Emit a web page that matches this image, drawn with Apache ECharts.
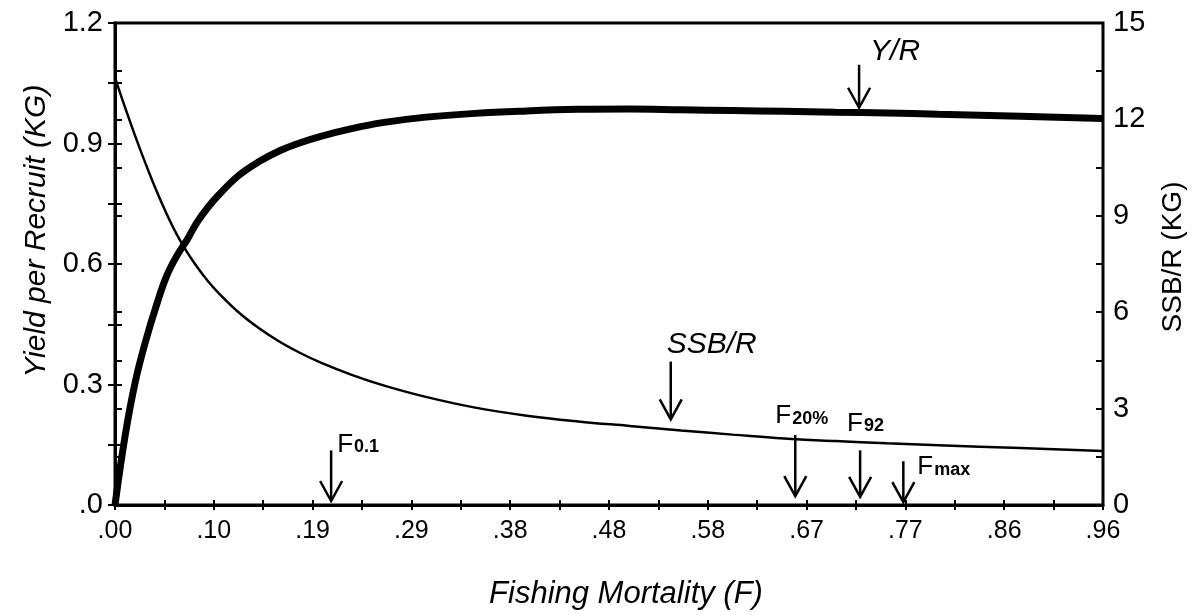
<!DOCTYPE html>
<html>
<head>
<meta charset="utf-8">
<title>Yield and SSB per Recruit</title>
<script src="https://cdn.jsdelivr.net/npm/echarts@6/dist/echarts.min.js"></script>
<style>
  html, body { margin: 0; padding: 0; background: #fff; }
  #chart { width: 1195px; height: 615px; }
</style>
</head>
<body>
<div id="chart"></div>
<script>
// fishing mortality samples for each curve
const yrF = [0, 0.01, 0.02, 0.03, 0.04, 0.05, 0.06, 0.07, 0.08, 0.09, 0.10, 0.12, 0.14, 0.16, 0.18, 0.20, 0.23, 0.26, 0.30, 0.35, 0.40, 0.45, 0.50, 0.55, 0.60, 0.65, 0.70, 0.75, 0.80, 0.88, 0.96];
const yrValues = [0, 0.175, 0.31, 0.41, 0.495, 0.569, 0.62, 0.66, 0.705, 0.74, 0.77, 0.82, 0.855, 0.882, 0.902, 0.918, 0.937, 0.952, 0.965, 0.975, 0.981, 0.985, 0.986, 0.984, 0.982, 0.98, 0.978, 0.976, 0.973, 0.968, 0.962];

const ssbF = [0, 0.01, 0.02, 0.03, 0.04, 0.05, 0.06, 0.07, 0.08, 0.09, 0.10, 0.12, 0.14, 0.16, 0.18, 0.20, 0.23, 0.26, 0.30, 0.35, 0.40, 0.45, 0.50, 0.55, 0.60, 0.65, 0.70, 0.75, 0.80, 0.88, 0.96];
const ssbValues = [13.3, 12.35, 11.45, 10.6, 9.8, 9.07, 8.42, 7.87, 7.4, 6.98, 6.62, 6.0, 5.5, 5.08, 4.73, 4.43, 4.05, 3.73, 3.38, 3.03, 2.78, 2.6, 2.46, 2.32, 2.19, 2.07, 1.99, 1.92, 1.86, 1.77, 1.68];

// tick labels
const xLabels = ['.00', '.10', '.19', '.29', '.38', '.48', '.58', '.67', '.77', '.86', '.96'];
const yLeftLabels = ['.0', '0.3', '0.6', '0.9', '1.2'];
const yRightLabels = ['0', '3', '6', '9', '12', '15'];

// arrow annotations (F, arrow top, arrow tip in yield units)
const annNames = ['Y/R', 'SSB/R', 'F0.1', 'F20%', 'F92', 'Fmax'];
const annF = [0.723, 0.54, 0.21, 0.661, 0.724, 0.766];
const annTop = [1.096, 0.357, 0.136, 0.174, 0.136, 0.109];
const annTip = [0.989, 0.213, 0.01, 0.022, 0.02, 0.007];

const FONT = '"Liberation Sans", Arial, sans-serif';

// label placement relative to the arrow top
const annLabel = {
  'Y/R':   { text: 'Y/R', dx: 11, dy: -13, italic: true },
  'SSB/R': { text: 'SSB/R', dx: -4, dy: -17, italic: true },
  'F0.1':  { text: '{f|F}{s|0.1}', dx: 6, dy: -6 },
  'F20%':  { text: '{f|F}{s|20%}', dx: -20, dy: -19 },
  'F92':   { text: '{f|F}{s|92}', dx: -13, dy: -27 },
  'Fmax':  { text: '{f|F}{s|max}', dx: 14, dy: 6 }
};

const pairs = (xs, ys) => xs.map((x, i) => [x, ys[i]]);

function renderArrow(params, api) {
  const name = annNames[params.dataIndex];
  const top = api.coord([api.value(0), api.value(1)]);
  const tip = api.coord([api.value(0), api.value(2)]);
  const lab = annLabel[name];
  const stroke = { stroke: '#000', lineWidth: 2.5, fill: null };
  return {
    type: 'group',
    children: [
      { type: 'line', shape: { x1: top[0], y1: top[1], x2: tip[0], y2: tip[1] - 2 }, style: stroke },
      { type: 'polyline', shape: { points: [[tip[0] - 11, tip[1] - 20], [tip[0], tip[1]], [tip[0] + 11, tip[1] - 20]] }, style: stroke },
      {
        type: 'text',
        x: top[0] + lab.dx,
        y: top[1] + lab.dy,
        style: {
          text: lab.text,
          fill: '#000',
          fontFamily: FONT,
          fontSize: 30,
          fontStyle: lab.italic ? 'italic' : 'normal',
          align: 'left',
          verticalAlign: 'middle',
          rich: {
            f: { fontSize: 26, fontFamily: FONT, fill: '#000', verticalAlign: 'bottom' },
            s: { fontSize: 18, fontFamily: FONT, fontWeight: 'bold', fill: '#000', verticalAlign: 'bottom', padding: [0, 0, 1, 1] }
          }
        }
      }
    ]
  };
}

const tickStyle = { lineStyle: { color: '#000', width: 2 } };

function xAxisDef(main) {
  return {
    type: 'value', position: 'bottom', min: 0, max: 0.96, interval: 0.096,
    axisLine: { show: main, lineStyle: { color: '#000', width: 3 } },
    axisTick: { show: true, inside: !main, length: 5, ...tickStyle },
    minorTick: { show: true, splitNumber: 2, length: 5, ...tickStyle },
    splitLine: { show: false },
    axisLabel: {
      show: main, color: '#000', fontFamily: FONT, fontSize: 25, margin: 14,
      formatter: v => xLabels[Math.round(v / 0.096)]
    },
    name: main ? 'Fishing Mortality (F)' : '',
    nameLocation: 'middle', nameGap: 74,
    nameTextStyle: { color: '#000', fontFamily: FONT, fontSize: 31, fontStyle: 'italic', padding: [0, 0, 0, 34] }
  };
}

function yLeftDef(main) {
  return {
    type: 'value', position: 'left', min: 0, max: 1.2, interval: 0.3,
    axisLine: { show: main, lineStyle: { color: '#000', width: 3 } },
    axisTick: { show: true, inside: !main, length: 7, ...tickStyle },
    minorTick: { show: true, splitNumber: 2, length: 7, ...tickStyle },
    splitLine: { show: false },
    axisLabel: {
      show: main, color: '#000', fontFamily: FONT, fontSize: 29, margin: 12,
      formatter: v => yLeftLabels[Math.round(v / 0.3)]
    },
    name: main ? 'Yield per Recruit (KG)' : '',
    nameLocation: 'middle', nameGap: 62,
    nameTextStyle: { color: '#000', fontFamily: FONT, fontSize: 30, fontStyle: 'italic', padding: [0, 0, 0, 66] }
  };
}

function yRightDef(main) {
  return {
    type: 'value', position: 'right', min: 0, max: 15, interval: 3,
    axisLine: { show: main, lineStyle: { color: '#000', width: 3 } },
    axisTick: { show: true, inside: !main, length: 7, ...tickStyle },
    minorTick: { show: true, splitNumber: 2, length: 7, ...tickStyle },
    splitLine: { show: false },
    axisLabel: {
      show: main, color: '#000', fontFamily: FONT, fontSize: 29, margin: 10,
      formatter: v => yRightLabels[Math.round(v / 3)]
    },
    name: main ? 'SSB/R (KG)' : '',
    nameLocation: 'middle', nameGap: 56,
    nameTextStyle: { color: '#000', fontFamily: FONT, fontSize: 28, padding: [0, 0, 0, 14] }
  };
}

const option = {
  animation: false,
  backgroundColor: '#fff',
  grid: { left: 115, right: 91, top: 23, bottom: 108, show: true, borderColor: '#000', borderWidth: 3, backgroundColor: 'transparent' },
  xAxis: [xAxisDef(true), xAxisDef(false)],
  yAxis: [yLeftDef(true), yRightDef(true), yLeftDef(false), yRightDef(false)],
  series: [
    {
      name: 'Y/R', type: 'line', xAxisIndex: 0, yAxisIndex: 0,
      data: pairs(yrF, yrValues), smooth: 0.4, showSymbol: false,
      lineStyle: { color: '#000', width: 7 }
    },
    {
      name: 'SSB/R', type: 'line', xAxisIndex: 0, yAxisIndex: 1,
      data: pairs(ssbF, ssbValues), smooth: 0.4, showSymbol: false,
      lineStyle: { color: '#000', width: 2.5 }
    },
    {
      name: 'arrows', type: 'custom', xAxisIndex: 0, yAxisIndex: 0, clip: false,
      data: annF.map((f, i) => [f, annTop[i], annTip[i]]),
      renderItem: renderArrow
    }
  ]
};

const chart = echarts.init(document.getElementById('chart'), null, { renderer: 'canvas' });
chart.setOption(option);
</script>
</body>
</html>
